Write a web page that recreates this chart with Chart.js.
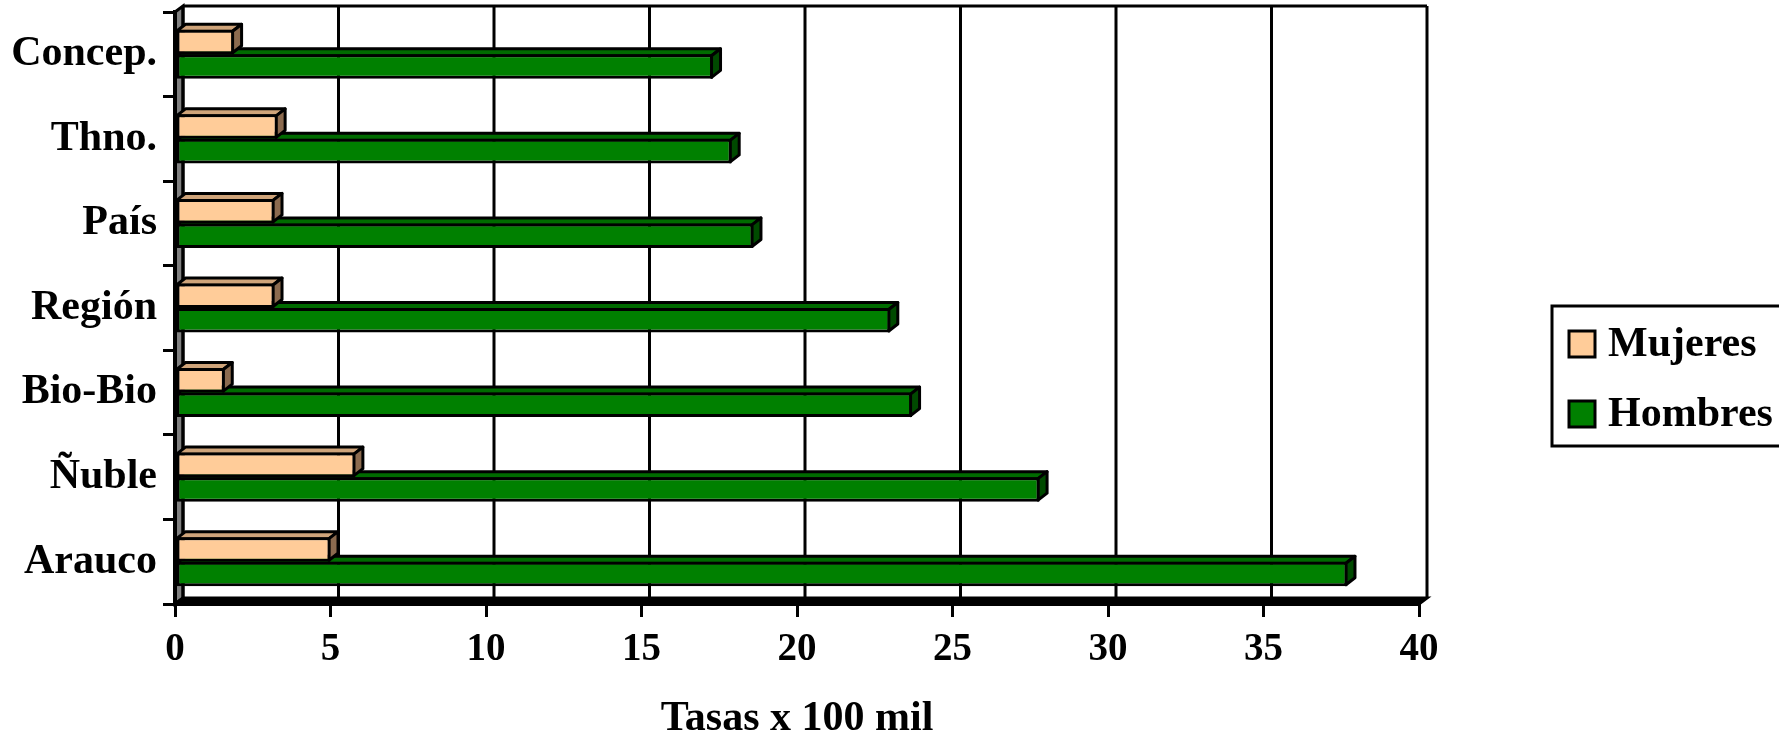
<!DOCTYPE html>
<html>
<head>
<meta charset="utf-8">
<script src="https://cdn.jsdelivr.net/npm/chart.js@4.4.0/dist/chart.umd.min.js"></script>
<style>
  html, body { margin: 0; padding: 0; background: #fff; }
  #wrap { width: 1779px; height: 735px; position: relative; }
</style>
</head>
<body>
<div id="wrap"><canvas id="tasasChart"></canvas></div>
<script>
var categories = ["Concep.", "Thno.", "País", "Región", "Bio-Bio", "Ñuble", "Arauco"];
var mujeres = [1.9, 3.3, 3.2, 3.2, 1.6, 5.8, 5.0];
var hombres = [17.3, 17.9, 18.6, 23.0, 23.7, 27.8, 37.7];
var xTicks = [0, 5, 10, 15, 20, 25, 30, 35, 40];
var seriesNames = ["Mujeres", "Hombres"];

var FONT = '"Liberation Serif", "Times New Roman", serif';
var WALL_DX = 8, WALL_DY = 6;   // fondo 3D
var BAR_DX = 9, BAR_DY = 7;     // profundidad de las barras

// colores: frente, cara de arriba, cara lateral
var faces = [
  { front: "#FFCC99", top: "#CFA47A", side: "#8C6B4F" },
  { front: "#008000", top: "#006B00", side: "#004A00" }
];

function poly(ctx, pts, fill) {
  ctx.beginPath();
  ctx.moveTo(pts[0][0], pts[0][1]);
  for (var i = 1; i < pts.length; i++) ctx.lineTo(pts[i][0], pts[i][1]);
  ctx.closePath();
  ctx.fillStyle = fill;
  ctx.fill();
  ctx.stroke();
}

var wallsPlugin = {
  id: "walls",
  beforeDraw: function (chart) {
    var ctx = chart.ctx, a = chart.chartArea, xs = chart.scales.x;
    ctx.save();
    ctx.strokeStyle = "#000";
    ctx.lineWidth = 3;
    // pared izquierda
    poly(ctx, [[a.left, a.top], [a.left + WALL_DX, a.top - WALL_DY], [a.left + WALL_DX, a.bottom - WALL_DY], [a.left, a.bottom]], "#808080");
    // piso
    poly(ctx, [[a.left, a.bottom], [a.left + WALL_DX, a.bottom - WALL_DY], [a.right + WALL_DX, a.bottom - WALL_DY], [a.right, a.bottom]], "#000");
    // lineas de la pared de fondo
    xTicks.forEach(function (v) {
      var px = xs.getPixelForValue(v) + WALL_DX;
      ctx.beginPath();
      ctx.moveTo(px, a.top - WALL_DY);
      ctx.lineTo(px, a.bottom - WALL_DY);
      ctx.stroke();
    });
    ctx.beginPath();
    ctx.moveTo(a.left + WALL_DX, a.top - WALL_DY);
    ctx.lineTo(a.right + WALL_DX, a.top - WALL_DY);
    ctx.stroke();
    ctx.restore();
  },
  beforeDatasetsDraw: function (chart) {
    var ctx = chart.ctx;
    ctx.save();
    ctx.strokeStyle = "#000";
    ctx.lineWidth = 3;
    ctx.lineJoin = "round";
    // hombres primero, mujeres encima
    for (var d = chart.data.datasets.length - 1; d >= 0; d--) {
      var meta = chart.getDatasetMeta(d);
      meta.data.forEach(function (bar) {
        var p = bar.getProps(["x", "y", "base", "height"], true);
        var t = p.y - p.height / 2 + 1.5, b = p.y + p.height / 2 - 1.5;
        var x0 = p.base, x1 = p.x - 1.5;
        poly(ctx, [[x0, t], [x0 + BAR_DX, t - BAR_DY], [x1 + BAR_DX, t - BAR_DY], [x1, t]], faces[d].top);
        poly(ctx, [[x1, t], [x1 + BAR_DX, t - BAR_DY], [x1 + BAR_DX, b - BAR_DY], [x1, b]], faces[d].side);
      });
    }
    ctx.restore();
  }
};

var legendPlugin = {
  id: "cajaLeyenda",
  afterDraw: function (chart) {
    var ctx = chart.ctx;
    ctx.save();
    ctx.lineWidth = 3;
    ctx.strokeStyle = "#000";
    ctx.strokeRect(1552, 306, 260, 140);
    ctx.font = "bold 42px " + FONT;
    ctx.textBaseline = "middle";
    chart.data.datasets.forEach(function (ds, i) {
      var cy = 344 + i * 70;
      ctx.fillStyle = ds.backgroundColor;
      ctx.fillRect(1569, cy - 13, 26, 26);
      ctx.strokeRect(1569, cy - 13, 26, 26);
      ctx.fillStyle = "#000";
      ctx.fillText(ds.label, 1608, cy + 1.5);
    });
    ctx.restore();
  }
};

var tickFont = { family: FONT, size: 39, weight: "bold" };
var labelFont = { family: FONT, size: 42, weight: "bold" };

new Chart(document.getElementById("tasasChart"), {
  type: "bar",
  data: {
    labels: categories,
    datasets: [
      {
        label: seriesNames[0],
        data: mujeres,
        backgroundColor: faces[0].front,
        borderColor: "#000",
        borderWidth: 3,
        borderSkipped: false
      },
      {
        label: seriesNames[1],
        data: hombres,
        backgroundColor: faces[1].front,
        borderColor: "#000",
        borderWidth: 3,
        borderSkipped: false
      }
    ]
  },
  options: {
    indexAxis: "y",
    responsive: true,
    maintainAspectRatio: false,
    animation: false,
    layout: { padding: { top: 12, right: 360, bottom: 0, left: 0 } },
    datasets: { bar: { categoryPercentage: 0.58, barPercentage: 1 } },
    plugins: { legend: { display: false }, tooltip: { enabled: false } },
    scales: {
      x: {
        min: 0,
        max: 40,
        ticks: { stepSize: 5, padding: 10, color: "#000", font: tickFont },
        grid: { drawOnChartArea: false, tickLength: 13, lineWidth: 3, color: "#000" },
        border: { display: true, width: 4, color: "#000" },
        title: {
          display: true,
          text: "Tasas x 100 mil",
          color: "#000",
          font: { family: FONT, size: 42, weight: "bold", lineHeight: 0.75 },
          padding: { top: 0, bottom: 0 }
        },
        afterFit: function (s) {
          s.height = 131;
          s.paddingLeft = 0;
          s.paddingRight = 0;
        }
      },
      y: {
        ticks: { padding: 6, color: "#000", font: labelFont },
        grid: { drawOnChartArea: false, tickLength: 12, lineWidth: 3, color: "#000", offset: true },
        border: { display: true, width: 4, color: "#000" },
        afterFit: function (s) {
          s.width = 175;
          s.paddingTop = 0;
          s.paddingBottom = 0;
        }
      }
    }
  },
  plugins: [wallsPlugin, legendPlugin]
});
</script>
</body>
</html>
